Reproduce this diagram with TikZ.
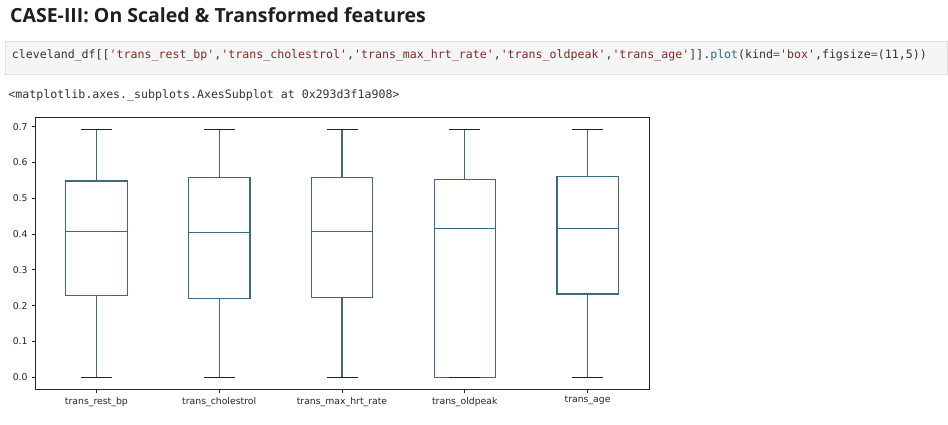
\documentclass[tikz,border=0pt]{standalone}
\usepackage{fontspec}
\setmainfont{DejaVu Sans}
\setmonofont{DejaVu Sans Mono}
\newfontfamily\titlefont{Open Sans}
\definecolor{boxcol}{HTML}{3E6B7E}
\definecolor{capcol}{HTML}{222222}
\definecolor{framecol}{HTML}{262626}
\definecolor{codebg}{HTML}{F5F5F5}
\definecolor{codeborder}{HTML}{E0E0E0}
\definecolor{codetxt}{HTML}{333333}
\definecolor{codestr}{HTML}{7E2A2A}
\definecolor{codefun}{HTML}{336E7E}
\definecolor{codeop}{HTML}{7A4A7A}
\definecolor{ticktxt}{HTML}{262626}
\newcommand\cs[1]{\textcolor{codestr}{#1}}
\newcommand\cq{'}
\begin{document}
\begin{tikzpicture}[x=1pt,y=-1pt,
  boxline/.style={draw=boxcol,line width=1.2pt},
  capline/.style={draw=capcol,line width=1.3pt},
  frameline/.style={draw=framecol,line width=1pt},
  ticklbl/.style={inner sep=0pt,font=\fontsize{9.3}{10}\selectfont,text=ticktxt},
  monotxt/.style={inner sep=0pt,anchor=base west,font=\ttfamily\fontsize{11.6}{13}\selectfont,text=codetxt}]
\useasboundingbox[fill=white] (0,0) rectangle (948,424);
% title
\node[inner sep=0pt,anchor=base west,font=\titlefont\bfseries\fontsize{19.5}{22}\selectfont,text=black!88] (title) at (10,22.7) {CASE-III: On Scaled \& Transformed features};
% code cell
\draw[fill=codebg,draw=codeborder,line width=1pt] (5,41) rectangle (947,74);
\node[monotxt] (code) at (11.7,58.3) {cleveland\_df[[\cs{\cq trans\_rest\_bp\cq},\cs{\cq trans\_cholestrol\cq},\cs{\cq trans\_max\_hrt\_rate\cq},\cs{\cq trans\_oldpeak\cq},\cs{\cq trans\_age\cq}]].\textcolor{codefun}{plot}(kind\textcolor{codeop}{=}\cs{\cq box\cq},figsize\textcolor{codeop}{=}(11,5))};
% output
\node[monotxt] (out) at (8.3,98.5) {<matplotlib.axes.\_subplots.AxesSubplot at 0x293d3f1a908>};
% y ticks
\foreach \v/\lab in {0/0.0,1/0.1,2/0.2,3/0.3,4/0.4,5/0.5,6/0.6,7/0.7}{
  \pgfmathsetmacro\yy{377.3-\v*35.79}
  \draw[framecol,line width=1pt] (31.5,\yy) -- (35,\yy);
  \node[ticklbl,anchor=east] (yl\v) at (27.8,\yy) {\lab};
}
% boxes: center / top / median / bottom
\foreach \i/\c/\t/\m/\b in {1/96.4/181/231.3/295.3, 2/219.2/177.3/232.3/298.2, 3/342/177.3/231.3/297.3, 4/464.8/179.3/228.3/377.3, 5/587.6/176.3/228.3/294}{
  \draw[boxline] (\c-30.7,\t) rectangle (\c+30.7,\b);
  \draw[boxline] (\c-30.7,\m) -- (\c+30.7,\m);
  \draw[boxline] (\c,\t) -- (\c,129.3);
  \draw[boxline] (\c,\b) -- (\c,377.3);
  \draw[capline] (\c-15.5,129.3) -- (\c+15.5,129.3);
  \draw[capline] (\c-15.5,377.3) -- (\c+15.5,377.3);
  \draw[framecol,line width=1pt] (\c,389) -- (\c,392.5);
}
% frame
\draw[frameline] (35,117) rectangle (649,389);
% x tick labels
\node[ticklbl,anchor=base] (xl1) at (96.4,404.3) {trans\_rest\_bp};
\node[ticklbl,anchor=base] (xl2) at (219.2,404.3) {trans\_cholestrol};
\node[ticklbl,anchor=base] (xl3) at (342,404.3) {trans\_max\_hrt\_rate};
\node[ticklbl,anchor=base] (xl4) at (464.8,404.3) {trans\_oldpeak};
\node[ticklbl,anchor=base] (xl5) at (587.6,402.6) {trans\_age};
\end{tikzpicture}
\end{document}
